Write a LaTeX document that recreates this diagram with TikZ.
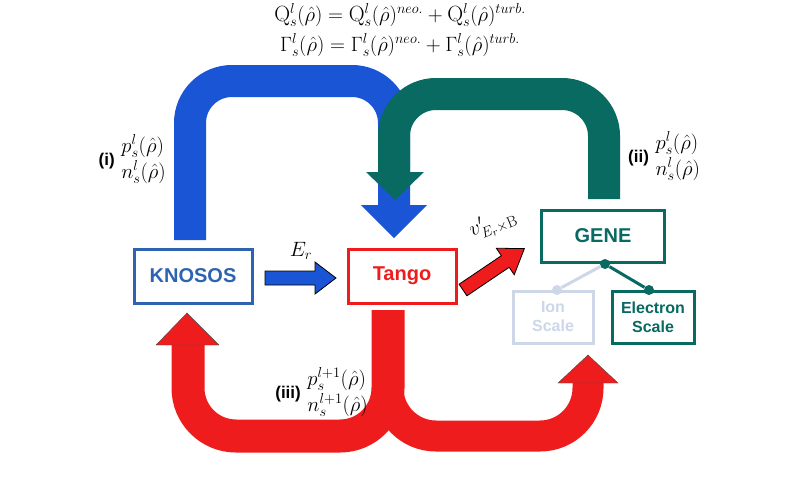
\documentclass[tikz,border=0pt]{standalone}
\usepackage{amsmath}
\usepackage{fontspec}
\setsansfont{Liberation Sans}
\usetikzlibrary{positioning,calc}
\definecolor{kblue}{RGB}{46,99,176}
\definecolor{ablue}{RGB}{26,85,214}
\definecolor{teal}{RGB}{8,106,96}
\definecolor{tred}{RGB}{238,28,28}
\definecolor{faded}{RGB}{205,215,232}
\begin{document}
\begin{tikzpicture}[x=1pt,y=-1pt]
\tikzstyle{box} = [rectangle, draw, line width=3pt, fill=white, font=\sffamily\bfseries\fontsize{20}{22}\selectfont, align=center]
\tikzstyle{small} = [font=\sffamily\bfseries\fontsize{16}{19}\selectfont]
\tikzstyle{band} = [line width=32pt, rounded corners=42pt]
\tikzstyle{dot} = [circle, inner sep=0pt, minimum size=10pt]
\tikzstyle{lbl} = [font=\fontsize{22}{26}\selectfont, inner sep=0pt]
\useasboundingbox (0,0) rectangle (800,480);

% blue and teal loops
\draw [band, ablue] (190,240) -- (190,81) -- (394,81) -- (394,206);
\fill [ablue] (361,205) -- (427,205) -- (394,238) -- cycle;
\draw [band, teal] (604,199) -- (604,94) -- (394,94) -- (394,173);
\fill [teal] (366,172) -- (424,172) -- (395,200) -- cycle;

% red loops
\draw [tred, line width=33pt, rounded corners=48pt] (388,310) -- (388,436) -- (188,436) -- (188,344);
\draw [tred, line width=31pt, rounded corners=48pt] (388,310) -- (388,436) -- (588,436) -- (588,382);
\draw [fill=tred, draw=black!70, thin] (156,345) -- (219,345) -- (187,313) -- cycle;
\draw [fill=tred, draw=black!70, thin] (558,383) -- (618,383) -- (588,355) -- cycle;

% nodes
\node [box, draw=kblue, text=kblue, minimum width=118pt, minimum height=54pt] (knosos) at (193,276) {KNOSOS};
\node [box, draw=tred, text=tred, minimum width=108pt, minimum height=54pt] (tango) at (402,276) {Tango};
\node [box, draw=teal, text=teal, minimum width=123pt, minimum height=52pt] (gene) at (603,236) {GENE};
\node [box, small, draw=faded, text=faded, minimum width=80pt, minimum height=52pt] (ion) at (553,317) {Ion\\Scale};
\node [box, small, draw=teal, text=teal, minimum width=82pt, minimum height=52pt] (electron) at (653,317) {Electron\\Scale};

% tree links
\node [dot, fill=teal] (hub) at (605,264) {};
\node [dot, fill=faded] (iondot) at (557,290) {};
\node [dot, fill=teal] (eldot) at (649,290) {};
\draw [faded, line width=3pt] (hub) -- (iondot);
\draw [teal, line width=3pt] (hub) -- (eldot);

% small arrows
\draw [fill=ablue, draw=black, thick] (265,271) -- (315,271) -- (315,262) -- (336,278) -- (315,294) -- (315,285) -- (265,285) -- cycle;
\draw [fill=tred, draw=black, thick, rotate around={34:(463,290)}] (463,283) -- (514,283) -- (514,274) -- (537,290) -- (514,306) -- (514,297) -- (463,297) -- cycle;

% labels
\node [lbl] (er) at (301,251) {$E_r$};
\node [lbl, rotate=22] (vexb) at (493,224) {$v'_{E_r\times \mathrm{B}}$};
\node [lbl] (fluxq) at (400,15) {$\mathrm{Q}_s^l(\hat\rho)=\mathrm{Q}_s^l(\hat\rho)^{neo.}+\mathrm{Q}_s^l(\hat\rho)^{turb.}$};
\node [lbl] (fluxg) at (400,45) {$\Gamma_s^l(\hat\rho)=\Gamma_s^l(\hat\rho)^{neo.}+\Gamma_s^l(\hat\rho)^{turb.}$};
\node [lbl, anchor=east] (lbli) at (166,160) {{\sffamily\bfseries\fontsize{17}{20}\selectfont(i)} $\begin{array}{@{}l@{}}p_s^l(\hat\rho)\\ n_s^l(\hat\rho)\end{array}$};
\node [lbl, anchor=west] (lblii) at (628,157) {{\sffamily\bfseries\fontsize{17}{20}\selectfont(ii)} $\begin{array}{@{}l@{}}p_s^l(\hat\rho)\\ n_s^l(\hat\rho)\end{array}$};
\node [lbl, anchor=east] (lbliii) at (368,393) {{\sffamily\bfseries\fontsize{17}{20}\selectfont(iii)} $\begin{array}{@{}l@{}}p_s^{l+1}(\hat\rho)\\ n_s^{l+1}(\hat\rho)\end{array}$};
\end{tikzpicture}
\end{document}
